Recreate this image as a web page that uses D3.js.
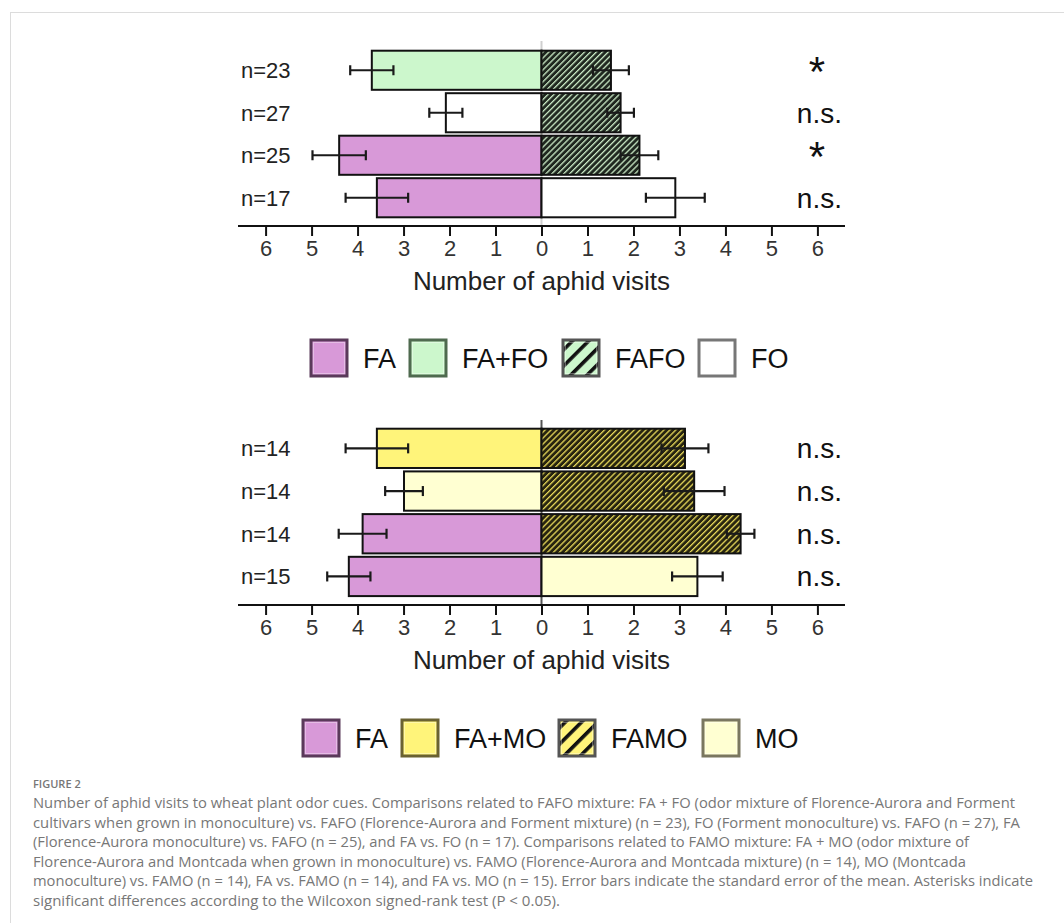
<!DOCTYPE html>
<html><head><meta charset="utf-8">
<script src="https://cdn.jsdelivr.net/npm/d3@7"></script>
<style>
html,body{margin:0;padding:0;background:#fff;}
svg{display:block;}
</style></head>
<body>
<svg id="chart" width="1064" height="923"></svg>
<script>
// ---------- DATA ----------
const xTicks = [-6,-5,-4,-3,-2,-1,0,1,2,3,4,5,6];
const axisTitle = "Number of aphid visits";

// Panel A (FAFO comparisons)
const topLabels    = ["n=23","n=27","n=25","n=17"];
const topLeftCat   = ["FA+FO","FO","FA","FA"];
const topLeftMean  = [3.69, 2.08, 4.40, 3.58];
const topLeftSE    = [0.47, 0.36, 0.58, 0.68];
const topRightCat  = ["FAFO","FAFO","FAFO","FO"];
const topRightMean = [1.51, 1.72, 2.13, 2.91];
const topRightSE   = [0.39, 0.29, 0.41, 0.64];
const topSig       = ["*","n.s.","*","n.s."];
const topLegend    = ["FA","FA+FO","FAFO","FO"];

// Panel B (FAMO comparisons)
const botLabels    = ["n=14","n=14","n=14","n=15"];
const botLeftCat   = ["FA+MO","MO","FA","FA"];
const botLeftMean  = [3.58, 2.99, 3.89, 4.19];
const botLeftSE    = [0.68, 0.41, 0.52, 0.47];
const botRightCat  = ["FAMO","FAMO","FAMO","MO"];
const botRightMean = [3.12, 3.32, 4.33, 3.39];
const botRightSE   = [0.51, 0.66, 0.30, 0.55];
const botSig       = ["n.s.","n.s.","n.s.","n.s."];
const botLegend    = ["FA","FA+MO","FAMO","MO"];

const captionTitle = "FIGURE 2";
const captionLines = [
 "Number of aphid visits to wheat plant odor cues. Comparisons related to FAFO mixture: FA + FO (odor mixture of Florence-Aurora and Forment",
 "cultivars when grown in monoculture) vs. FAFO (Florence-Aurora and Forment mixture) (n = 23), FO (Forment monoculture) vs. FAFO (n = 27), FA",
 "(Florence-Aurora monoculture) vs. FAFO (n = 25), and FA vs. FO (n = 17). Comparisons related to FAMO mixture: FA + MO (odor mixture of",
 "Florence-Aurora and Montcada when grown in monoculture) vs. FAMO (Florence-Aurora and Montcada mixture) (n = 14), MO (Montcada",
 "monoculture) vs. FAMO (n = 14), FA vs. FAMO (n = 14), and FA vs. MO (n = 15). Error bars indicate the standard error of the mean. Asterisks indicate",
 "significant differences according to the Wilcoxon signed-rank test (P < 0.05)."
];
const captionWidths = [982, 987, 936, 933, 1000, 527];

// ---------- STYLE ----------
const fills = {
  "FA":"#d899d8", "FA+FO":"#ccf7cc", "FO":"#ffffff",
  "FA+MO":"#fff47a", "MO":"#ffffd2",
  "FAFO":"url(#hatchG)", "FAMO":"url(#hatchY)"
};
const legendFills = {
  "FA":"#d899d8", "FA+FO":"#ccf7cc", "FO":"#ffffff",
  "FA+MO":"#fff47a", "MO":"#ffffd2",
  "FAFO":"url(#legHatchG)", "FAMO":"url(#legHatchY)"
};
const legendStroke = {
  "FA":"#5a3a5a", "FA+FO":"#4f6a4f", "FO":"#777", "FA+MO":"#6a6232", "MO":"#7a7760",
  "FAFO":"#555", "FAMO":"#555"
};

const svg = d3.select("#chart");
const defs = svg.append("defs");

function hatch(id, bg, fg, size, w){
  const p = defs.append("pattern").attr("id",id).attr("patternUnits","userSpaceOnUse")
    .attr("width",size).attr("height",size).attr("patternTransform","rotate(45)");
  p.append("rect").attr("width",size).attr("height",size).attr("fill",bg);
  p.append("rect").attr("x",0).attr("y",0).attr("width",w).attr("height",size).attr("fill",fg);
}
hatch("hatchG","#1f271f","#c9e8c4",4.2,1.3);
hatch("hatchY","#27240f","#e7d85a",4.2,1.3);
hatch("legHatchG","#ccf7cc","#111",11.5,3.6);
hatch("legHatchY","#fff47a","#111",11.5,3.6);

// frame
svg.append("rect").attr("x",10.5).attr("y",12.5).attr("width",1070).attr("height",930)
  .attr("fill","none").attr("stroke","#dcdcdc").attr("stroke-width",1);

const x = d3.scaleLinear().domain([-6.6,6.6]).range([238,845]);
const FONT = "'Liberation Sans', Arial, sans-serif";

function panel(cfg){
  const g = svg.append("g");
  const y = d3.scaleBand().domain(d3.range(cfg.labels.length))
     .range([cfg.top, cfg.top + cfg.step*cfg.labels.length]).paddingInner(0.08).paddingOuter(0.04);

  // zero line
  g.append("line").attr("x1",x(0)).attr("x2",x(0)).attr("y1",cfg.zeroTop).attr("y2",cfg.axisY)
    .attr("stroke",cfg.zeroColor).attr("stroke-width",2);

  const rows = d3.range(cfg.labels.length);
  // left bars
  g.selectAll(".lb").data(rows).join("rect")
    .attr("x",i=>x(-cfg.leftMean[i])).attr("y",i=>y(i))
    .attr("width",i=>x(0)-x(-cfg.leftMean[i])).attr("height",y.bandwidth())
    .attr("fill",i=>fills[cfg.leftCat[i]]).attr("stroke","#111").attr("stroke-width",2);
  // right bars
  g.selectAll(".rb").data(rows).join("rect")
    .attr("x",x(0)).attr("y",i=>y(i))
    .attr("width",i=>x(cfg.rightMean[i])-x(0)).attr("height",y.bandwidth())
    .attr("fill",i=>fills[cfg.rightCat[i]]).attr("stroke","#111").attr("stroke-width",2);

  // error bars
  function err(mean, se, sign, i){
    const cy = y(i)+y.bandwidth()/2;
    const a = x(sign*(mean-se)), b = x(sign*(mean+se));
    const eg = g.append("g").attr("stroke","#1a1a1a").attr("stroke-width",2.2);
    eg.append("line").attr("x1",a).attr("x2",b).attr("y1",cy).attr("y2",cy);
    eg.append("line").attr("x1",a).attr("x2",a).attr("y1",cy-5).attr("y2",cy+5);
    eg.append("line").attr("x1",b).attr("x2",b).attr("y1",cy-5).attr("y2",cy+5);
  }
  rows.forEach(i=>{ err(cfg.leftMean[i],cfg.leftSE[i],-1,i); err(cfg.rightMean[i],cfg.rightSE[i],1,i); });

  // n labels
  g.selectAll(".nl").data(rows).join("text")
    .attr("x",241).attr("y",i=>y(i)+y.bandwidth()/2+8)
    .attr("font-family",FONT).attr("font-size",22).attr("fill","#222")
    .text(i=>cfg.labels[i]);

  // significance
  g.selectAll(".sig").data(rows).join("text")
    .attr("x",i=>cfg.sig[i]==="*"?817:842)
    .attr("y",i=>cfg.sig[i]==="*"? y(i)+y.bandwidth()/2+16 : y(i)+y.bandwidth()/2+10)
    .attr("text-anchor",i=>cfg.sig[i]==="*"?"middle":"end")
    .attr("font-family",FONT).attr("font-size",i=>cfg.sig[i]==="*"?42:28).attr("fill","#111")
    .text(i=>cfg.sig[i]);

  // axis
  const ax = g.append("g").attr("transform",`translate(0,${cfg.axisY})`)
    .call(d3.axisBottom(x).tickValues(xTicks).tickFormat(d=>Math.abs(d)).tickSize(10).tickPadding(4));
  ax.select(".domain").attr("d",`M${x.range()[0]},0H${x.range()[1]}`).attr("stroke","#111").attr("stroke-width",2.2);
  ax.selectAll(".tick line").attr("stroke","#111").attr("stroke-width",2);
  ax.selectAll(".tick text").attr("font-family",FONT).attr("font-size",22).attr("fill","#333");

  g.append("text").attr("x",x(0)).attr("y",cfg.axisY+64).attr("text-anchor","middle")
    .attr("font-family",FONT).attr("font-size",26).attr("fill","#222").text(axisTitle);

  // legend
  const lg = g.append("g");
  cfg.legend.forEach((k,j)=>{
    const bx = cfg.legBoxX[j], by = cfg.legY-18;
    lg.append("rect").attr("x",bx).attr("y",by).attr("width",36).attr("height",36)
      .attr("fill",legendFills[k]).attr("stroke",legendStroke[k]).attr("stroke-width",3);
    lg.append("rect").attr("x",bx+2.5).attr("y",by+2.5).attr("width",31).attr("height",31)
      .attr("fill","none").attr("stroke","#ffffff").attr("stroke-opacity",0.35).attr("stroke-width",1);
    lg.append("text").attr("x",bx+52).attr("y",cfg.legY+10)
      .attr("font-family",FONT).attr("font-size",27).attr("fill","#111").text(k);
  });
}

panel({labels:topLabels,leftCat:topLeftCat,leftMean:topLeftMean,leftSE:topLeftSE,
  rightCat:topRightCat,rightMean:topRightMean,rightSE:topRightSE,sig:topSig,legend:topLegend,
  top:49, step:42.5, axisY:226, zeroTop:41, zeroColor:"#cfcfcf",
  legY:358, legBoxX:[311,410,563,699]});

panel({labels:botLabels,leftCat:botLeftCat,leftMean:botLeftMean,leftSE:botLeftSE,
  rightCat:botRightCat,rightMean:botRightMean,rightSE:botRightSE,sig:botSig,legend:botLegend,
  top:427, step:42.7, axisY:605, zeroTop:420, zeroColor:"#555",
  legY:738, legBoxX:[303,402,559,703]});

// caption
const CF = "'Open Sans', 'Lato', sans-serif";
svg.append("text").attr("x",33).attr("y",788).attr("font-family",CF).attr("font-size",11)
  .attr("font-weight",600).attr("fill","#777").text(captionTitle);
svg.selectAll(".cap").data(captionLines).join("text")
  .attr("x",33).attr("y",(d,i)=>808+i*19.5)
  .attr("font-family",CF).attr("font-size",14).attr("fill","#777")
  .attr("textLength",(d,i)=>captionWidths[i]).attr("lengthAdjust","spacingAndGlyphs")
  .text(d=>d);
</script>
</body></html>
